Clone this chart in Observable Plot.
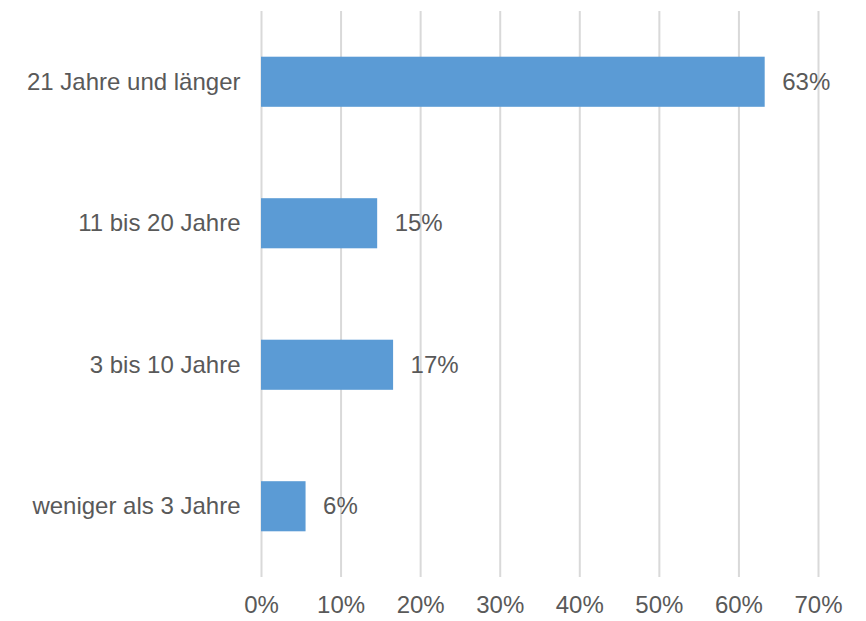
<!DOCTYPE html>
<html>
<head>
<meta charset="utf-8">
<script src="https://cdn.jsdelivr.net/npm/d3@7"></script>
<script src="https://cdn.jsdelivr.net/npm/@observablehq/plot@0.6"></script>
<style>
  html, body { margin: 0; padding: 0; background: #ffffff; }
  #chart svg { display: block; }
</style>
</head>
<body>
<div id="chart"></div>
<script>
const categories = ["21 Jahre und länger", "11 bis 20 Jahre", "3 bis 10 Jahre", "weniger als 3 Jahre"];
const values = [63.3, 14.6, 16.6, 5.6];
const xTicks = [0, 10, 20, 30, 40, 50, 60, 70];

const data = categories.map((c, i) => ({category: c, value: values[i]}));

const font = "'Liberation Sans', Arial, sans-serif";
const textColor = "#595959";
const fs = 24;

const chart = Plot.plot({
  width: 866,
  height: 621,
  marginTop: 11,
  marginBottom: 44,
  marginLeft: 261,
  marginRight: 48,
  style: {fontFamily: font, fontSize: fs + "px", color: textColor, background: "#ffffff"},
  x: {domain: [0, 70], ticks: xTicks, tickFormat: d => d + "%", tickSize: 0, tickPadding: 18, label: null},
  y: {domain: categories, paddingInner: 0.646, paddingOuter: 0.323, round: false, tickSize: 0, tickPadding: 21, label: null},
  marks: [
    Plot.ruleX(xTicks, {stroke: "#d9d9d9", strokeWidth: 2}),
    Plot.barX(data, {y: "category", x: "value", fill: "#5b9bd5"}),
    Plot.text(data, {
      y: "category", x: "value",
      text: d => Math.round(d.value) + "%",
      textAnchor: "start", dx: 17,
      fill: textColor, fontSize: fs
    }),
    Plot.axisX({ticks: xTicks, tickFormat: d => d + "%", tickSize: 0, tickPadding: 18, label: null, fill: textColor, fontSize: fs}),
    Plot.axisY({tickSize: 0, tickPadding: 21, label: null, fill: textColor, fontSize: fs})
  ]
});

document.getElementById("chart").appendChild(chart);
</script>
</body>
</html>
